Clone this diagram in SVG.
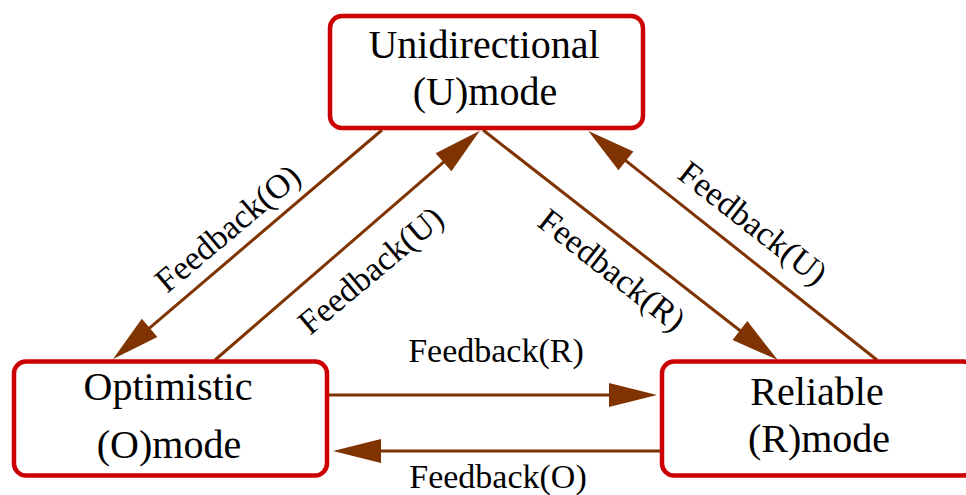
<svg xmlns="http://www.w3.org/2000/svg" width="966" height="495" viewBox="0 0 966 495">
<style>
.box{fill:#fff;stroke:#cc0000;stroke-width:4.5}
.nt{font-family:"Liberation Serif","Times New Roman",serif;font-size:40px;fill:#000;text-anchor:middle}
.et{font-family:"Liberation Serif","Times New Roman",serif;font-size:34px;fill:#000;text-anchor:middle}
.edge{stroke:#7f3300;stroke-width:3;fill:none;marker-end:url(#ah)}
</style>
<defs>
<marker id="ah" markerUnits="userSpaceOnUse" markerWidth="48" markerHeight="24" refX="28" refY="12" orient="auto" overflow="visible">
<path d="M0,0 L48,12 L0,24 Z" fill="#7f3300"/>
</marker>
</defs>
<rect width="966" height="495" fill="#fff"/>
<g id="connectors">
<line class="edge" x1="382" y1="130" x2="128.3" y2="346.1"/>
<line class="edge" x1="215" y1="360" x2="464.7" y2="143.9"/>
<line class="edge" x1="483" y1="130" x2="762" y2="347.8"/>
<line class="edge" x1="877" y1="360" x2="604" y2="143.4"/>
<line class="edge" x1="329" y1="395" x2="637" y2="395"/>
<line class="edge" x1="662" y1="451" x2="353" y2="451"/>
</g>
<g id="edge-labels">
<text class="et" x="235" y="237" transform="rotate(-40 235 237)">Feedback(O)</text>
<text class="et" x="378" y="279" transform="rotate(-40 378 279)">Feedback(U)</text>
<text class="et" x="605" y="279" transform="rotate(38 605 279)">Feedback(R)</text>
<text class="et" x="746" y="232" transform="rotate(38 746 232)">Feedback(U)</text>
<text class="et" x="496" y="362">Feedback(R)</text>
<text class="et" x="498" y="488">Feedback(O)</text>
</g>
<g id="node-U">
<rect class="box" x="330" y="16" width="313" height="112" rx="12"/>
<text class="nt" x="484" y="58">Unidirectional</text>
<text class="nt" x="485" y="105">(U)mode</text>
</g>
<g id="node-O">
<rect class="box" x="14" y="361.5" width="313" height="114" rx="12"/>
<text class="nt" x="168" y="400">Optimistic</text>
<text class="nt" x="169" y="458">(O)mode</text>
</g>
<g id="node-R">
<rect class="box" x="662" y="361.5" width="313" height="114" rx="12"/>
<text class="nt" x="817" y="405">Reliable</text>
<text class="nt" x="819" y="452">(R)mode</text>
</g>
</svg>
